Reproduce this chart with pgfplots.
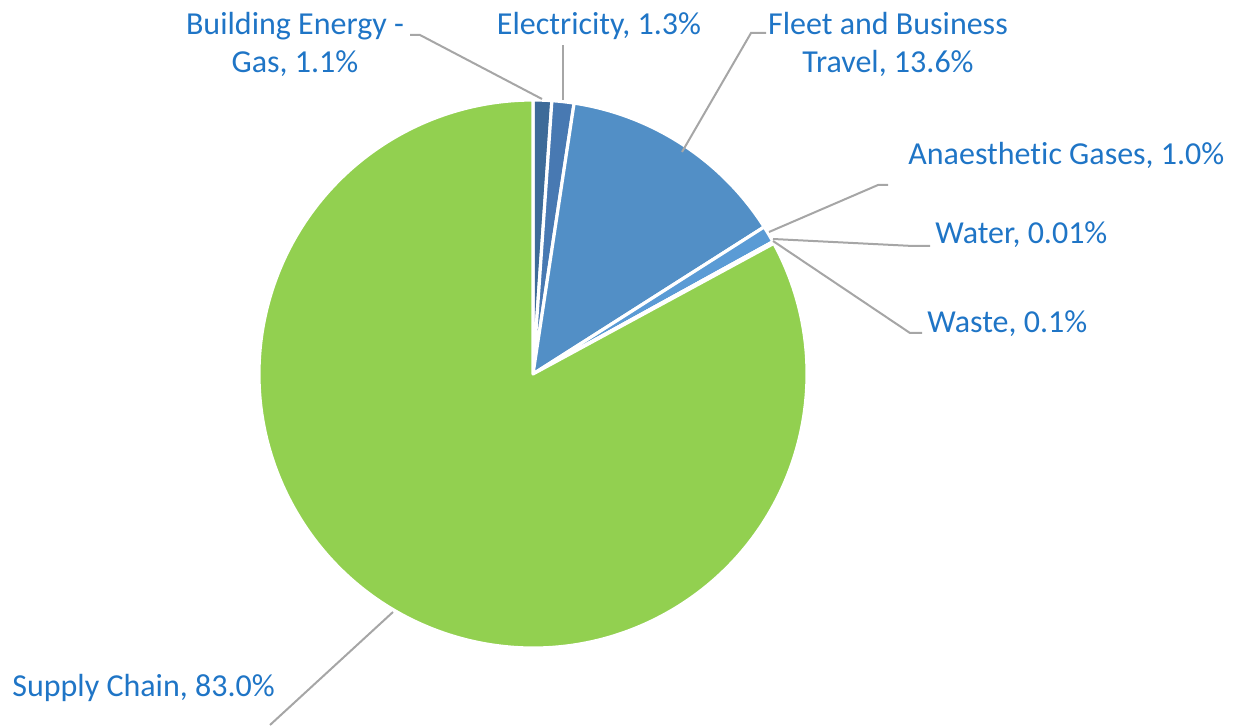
\documentclass[border=0pt]{standalone}
\usepackage{pgfplots}
\pgfplotsset{compat=1.18}
\usepackage{pgfplotstable}
\usepackage{fontspec}
\setmainfont{Carlito}[Ligatures={NoCommon}]
\definecolor{pie0}{HTML}{3D6B99}
\definecolor{pie1}{HTML}{4879B2}
\definecolor{pie2}{HTML}{528FC6}
\definecolor{pie3}{HTML}{5A9BD5}
\definecolor{pie4}{HTML}{5A9BD5}
\definecolor{pie5}{HTML}{5A9BD5}
\definecolor{pie6}{HTML}{92D050}
\definecolor{labc}{HTML}{1F75C6}
\definecolor{leadc}{HTML}{A6A6A6}
\tikzset{lab/.style={font=\fontsize{16}{19}\selectfont, text=labc, inner sep=0pt}}
\pgfplotstableread{
label value
Gas 1.1
Electricity 1.3
Fleet 13.6
Anaesthetic 1.0
Water 0.01
Waste 0.1
Supply 83.0
}\piedata
\begin{document}
\begin{tikzpicture}
\xdef\pietotal{0}
\foreach \i in {0,...,6}{
  \pgfplotstablegetelem{\i}{value}\of\piedata
  \pgfmathsetmacro\t{\pietotal+\pgfplotsretval}
  \xdef\pietotal{\t}
}
\pgfmathsetmacro\piefac{360/\pietotal}
\xdef\piefac{\piefac}
\xdef\cum{0}
\foreach \i in {0,...,6}{
  \pgfplotstablegetelem{\i}{value}\of\piedata
  \pgfmathsetmacro\s{90-\piefac*\cum}
  \pgfmathsetmacro\c{\cum+\pgfplotsretval}
  \pgfmathsetmacro\e{90-\piefac*\c}
  \expandafter\xdef\csname pieS\i\endcsname{\s}
  \expandafter\xdef\csname pieE\i\endcsname{\e}
  \xdef\cum{\c}
}
\begin{axis}[
  scale only axis, width=618.5pt, height=363pt,
  xmin=0, xmax=1237, ymin=0, ymax=726, y dir=reverse,
  hide axis, clip=false,
]
\path (axis cs:0,0) rectangle (axis cs:1237,726);
\pgfplotsinvokeforeach{0,...,6}{
  \fill[pie#1, draw=white, line width=1.6pt, line join=round]
    (axis cs:533,374) -- ++(\csname pieS#1\endcsname:137pt)
    arc[start angle=\csname pieS#1\endcsname, end angle=\csname pieE#1\endcsname, radius=137pt] -- cycle;
}
% leader lines
\draw[leadc, line width=1pt] (axis cs:542,99) -- (axis cs:420,35) -- (axis cs:410,35);
\draw[leadc, line width=1pt] (axis cs:563,100) -- (axis cs:563,45);
\draw[leadc, line width=1pt] (axis cs:682,152) -- (axis cs:751,33) -- (axis cs:766,33);
\draw[leadc, line width=1pt] (axis cs:769,232) -- (axis cs:878,185) -- (axis cs:888,185);
\draw[leadc, line width=1pt] (axis cs:773,239) -- (axis cs:913,246) -- (axis cs:930,246);
\draw[leadc, line width=1pt] (axis cs:773,241) -- (axis cs:910,333) -- (axis cs:922,333);
\draw[leadc, line width=1pt] (axis cs:393,612) -- (axis cs:270,725);
% labels
\node[lab, anchor=base] at (axis cs:295,35) {Building Energy -};
\node[lab, anchor=base] at (axis cs:295,73) {Gas, 1.1\%};
\node[lab, anchor=base] at (axis cs:599,35) {Electricity, 1.3\%};
\node[lab, anchor=base] at (axis cs:888,35) {Fleet and Business};
\node[lab, anchor=base] at (axis cs:888,73) {Travel, 13.6\%};
\node[lab, anchor=base west] at (axis cs:908,165) {Anaesthetic Gases, 1.0\%};
\node[lab, anchor=base west] at (axis cs:935,244) {Water, 0.01\%};
\node[lab, anchor=base west] at (axis cs:927,333) {Waste, 0.1\%};
\node[lab, anchor=base west] at (axis cs:12,697) {Supply Chain, 83.0\%};
\end{axis}
\end{tikzpicture}
\end{document}
